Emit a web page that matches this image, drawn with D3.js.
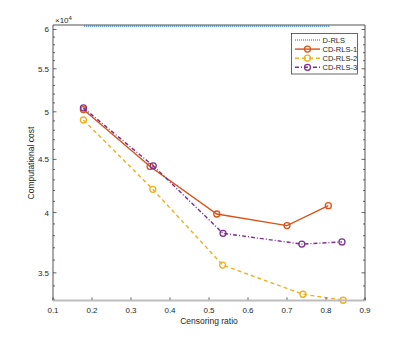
<!DOCTYPE html>
<html><head><meta charset="utf-8">
<script src="https://cdn.jsdelivr.net/npm/d3@7"></script>
<style>body{margin:0;background:#fff}svg{display:block}text{font-family:"Liberation Sans",Arial,sans-serif;fill:#262626}</style>
</head><body>
<script>
const xTicks = [0.1,0.2,0.3,0.4,0.5,0.6,0.7,0.8,0.9];
const yTicks = [35000,40000,45000,50000,55000,60000];
const yTickLabels = ["3.5","4","4.5","5","5.5","6"];
const xD = [0.18,0.35,0.52,0.70,0.81];
const yD = [60450,60450,60450,60450,60450];
const x1 = [0.178,0.349,0.520,0.700,0.806];
const y1 = [50250,44300,39870,38860,40610];
const x2 = [0.178,0.356,0.535,0.741,0.844];
const y2 = [49100,42110,35610,33380,32940];
const x3 = [0.178,0.357,0.536,0.738,0.841];
const y3 = [50440,44360,38200,37300,37480];
const names = ["D-RLS","CD-RLS-1","CD-RLS-2","CD-RLS-3"];
const colors = ["#0072BD","#D95319","#EDB120","#7E2F8E"];
const dashes = ["1,1","none","4,3","4,2,1,2"];

const W=404,H=338, L=53,R=365,T=25,B=300.5;
const svg=d3.select("body").append("svg").attr("width",W).attr("height",H);
const x=d3.scaleLinear().domain([0.1,0.9]).range([L,R]);
const y=d3.scaleLog().domain([32920,60600]).range([B,T]);

const series=[[xD,yD],[x1,y1],[x2,y2],[x3,y3]];
const line=d3.line().x(d=>x(d[0])).y(d=>y(d[1]));
series.forEach((s,i)=>{
  const pts=s[0].map((v,j)=>[v,s[1][j]]);
  svg.append("path").attr("d",line(pts)).attr("fill","none").attr("stroke",colors[i])
    .attr("stroke-width",i==0?1.2:1.4).attr("stroke-dasharray",dashes[i]);
  if(i>0){
    svg.selectAll(null).data(pts).enter().append("circle")
      .attr("cx",d=>x(d[0])).attr("cy",d=>y(d[1])).attr("r",3)
      .attr("fill","none").attr("stroke",colors[i]).attr("stroke-width",1.3);
  }
});

// axes box
const ax=svg.append("g").attr("stroke","#262626").attr("fill","none");
ax.append("line").attr("x1",L).attr("x2",L).attr("y1",T).attr("y2",B).attr("stroke-width",0.8);
ax.append("line").attr("x1",R).attr("x2",R).attr("y1",T).attr("y2",B).attr("stroke-width",0.8);
ax.append("line").attr("x1",L).attr("x2",R).attr("y1",T).attr("y2",T).attr("stroke-width",0.8);
svg.append("line").attr("x1",L).attr("x2",R).attr("y1",B).attr("y2",B).attr("stroke","#bdbdbd").attr("stroke-width",2);

// x ticks
xTicks.forEach(t=>{
  ax.append("line").attr("x1",x(t)).attr("x2",x(t)).attr("y1",B).attr("y2",B-3).attr("stroke-width",0.8);
  svg.append("text").attr("x",x(t)).attr("y",B+12.5).attr("text-anchor","middle").attr("font-size",8).text(d3.format(".1f")(t));
});
// y minor ticks
d3.range(33000,60001,1000).forEach(v=>{
  const major=v%5000===0;
  const len=major?3.5:2;
  ax.append("line").attr("x1",L).attr("x2",L+len).attr("y1",y(v)).attr("y2",y(v)).attr("stroke-width",0.7);
  ax.append("line").attr("x1",R).attr("x2",R-len).attr("y1",y(v)).attr("y2",y(v)).attr("stroke-width",0.7);
});
yTicks.forEach((t,i)=>{
  svg.append("text").attr("x",L-4).attr("y",y(t)+3).attr("text-anchor","end").attr("font-size",8).text(yTickLabels[i]);
});
const ex=svg.append("text").attr("x",55).attr("y",22.5).attr("font-size",8);
ex.append("tspan").text("×10");
ex.append("tspan").attr("font-size",6).attr("dy",-3).text("4");

svg.append("text").attr("x",(L+R)/2).attr("y",324).attr("text-anchor","middle").attr("font-size",8.5).text("Censoring ratio");
svg.append("text").attr("transform","translate(33.5,163) rotate(-90)").attr("text-anchor","middle").attr("font-size",8.5).text("Computational cost");

// legend
const lg=svg.append("g");
lg.append("rect").attr("x",291.5).attr("y",33.5).attr("width",66).attr("height",40.5).attr("fill","#fff").attr("stroke","#262626").attr("stroke-width",0.7);
names.forEach((n,i)=>{
  const yy=40+i*9.1;
  lg.append("line").attr("x1",295).attr("x2",320).attr("y1",yy).attr("y2",yy).attr("stroke",colors[i]).attr("stroke-width",i==0?1.2:1.4).attr("stroke-dasharray",dashes[i]);
  if(i>0) lg.append("circle").attr("cx",307.5).attr("cy",yy).attr("r",3).attr("fill","none").attr("stroke",colors[i]).attr("stroke-width",1.3);
  lg.append("text").attr("x",322.5).attr("y",yy+2.8).attr("font-size",7.5).text(n);
});
</script>
</body></html>
